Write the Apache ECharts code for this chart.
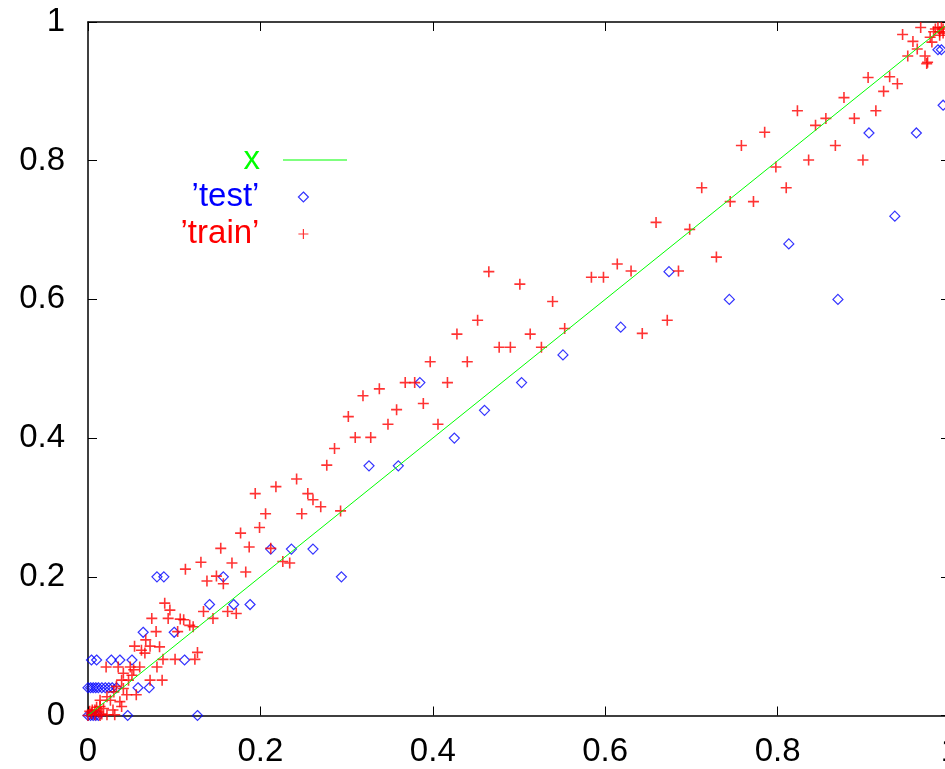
<!DOCTYPE html>
<html>
<head>
<meta charset="utf-8">
<script src="https://cdn.jsdelivr.net/npm/echarts@6/dist/echarts.min.js"></script>
<style>
  html, body { margin: 0; padding: 0; background: #fff; }
  #chart { width: 945px; height: 769px; }
</style>
</head>
<body>
<div id="chart"></div>
<script>
// y = x reference line
const lineData = [[0, 0], [1, 1]]

// 'test' points (blue diamonds)
const testData = [
  [0.080, 0.20], [0.088, 0.20], [0.157, 0.20], [0.141, 0.16], [0.169, 0.16], [0.188, 0.16],
  [0.064, 0.12], [0.100, 0.12], [0.004, 0.08], [0.010, 0.08], [0.027, 0.08], [0.037, 0.08],
  [0.051, 0.08], [0.112, 0.08], [0.058, 0.04], [0.071, 0.04],
  [0.000, 0.04], [0.003, 0.04], [0.006, 0.04], [0.009, 0.04], [0.012, 0.04], [0.016, 0.04],
  [0.020, 0.04], [0.024, 0.04], [0.028, 0.04], [0.033, 0.04],
  [0.046, 0], [0.127, 0], [0.000, 0], [0.003, 0], [0.006, 0], [0.009, 0], [0.012, 0],
  [0.385, 0.48], [0.326, 0.36], [0.360, 0.36], [0.212, 0.24], [0.236, 0.24], [0.261, 0.24],
  [0.294, 0.20], [0.425, 0.40], [0.460, 0.44], [0.503, 0.48], [0.551, 0.52], [0.618, 0.56],
  [0.674, 0.64], [0.744, 0.60], [0.813, 0.68], [0.870, 0.60], [0.906, 0.84], [0.961, 0.84],
  [0.936, 0.72], [0.992, 0.88], [0.986, 0.96], [0.990, 0.96]
]

// 'train' points (red crosses)
const trainData = [
  [0.131, 0.221], [0.167, 0.220], [0.113, 0.211], [0.183, 0.207], [0.138, 0.194], [0.149, 0.201],
  [0.157, 0.190], [0.226, 0.222], [0.234, 0.220],
  [0.089, 0.162], [0.095, 0.152], [0.134, 0.150], [0.162, 0.150], [0.172, 0.147], [0.145, 0.140],
  [0.074, 0.140], [0.093, 0.140], [0.107, 0.139], [0.111, 0.138], [0.118, 0.130], [0.122, 0.128],
  [0.079, 0.121], [0.104, 0.121], [0.067, 0.109], [0.054, 0.100], [0.062, 0.094], [0.066, 0.090],
  [0.072, 0.100], [0.083, 0.099], [0.087, 0.081], [0.101, 0.081], [0.124, 0.081], [0.127, 0.091],
  [0.080, 0.070], [0.021, 0.070], [0.035, 0.070], [0.049, 0.070], [0.053, 0.066], [0.060, 0.070],
  [0.041, 0.061], [0.051, 0.058], [0.039, 0.051], [0.047, 0.051], [0.072, 0.051], [0.086, 0.051],
  [0.033, 0.042], [0.030, 0.034], [0.041, 0.039], [0.056, 0.030], [0.045, 0.030], [0.022, 0.027],
  [0.026, 0.022], [0.014, 0.022], [0.037, 0.020], [0.039, 0.013], [0.014, 0.013], [0.008, 0.008],
  [0.029, 0.008], [0.031, 0.001], [0.022, 0.001],
  [0.000, 0.000], [0.004, 0.003], [0.008, 0.001], [0.012, 0.005], [0.016, 0.002], [0.005, 0.008],
  [0.010, 0.012], [0.002, 0.006], [0.018, 0.010], [0.014, 0.000],
  [0.368, 0.480], [0.379, 0.480], [0.338, 0.471], [0.319, 0.461], [0.389, 0.450], [0.302, 0.431],
  [0.358, 0.441], [0.348, 0.420], [0.406, 0.420], [0.310, 0.401], [0.328, 0.401], [0.286, 0.385],
  [0.277, 0.361], [0.242, 0.341], [0.218, 0.330], [0.194, 0.320], [0.255, 0.320], [0.261, 0.311],
  [0.270, 0.301], [0.206, 0.291], [0.248, 0.291], [0.293, 0.295], [0.199, 0.271], [0.177, 0.263],
  [0.187, 0.243], [0.154, 0.241], [0.212, 0.241],
  [0.465, 0.640], [0.501, 0.622], [0.539, 0.597], [0.452, 0.570], [0.428, 0.550], [0.513, 0.550],
  [0.553, 0.558], [0.477, 0.531], [0.490, 0.531], [0.526, 0.531], [0.397, 0.510], [0.440, 0.510],
  [0.417, 0.480], [0.584, 0.632], [0.598, 0.632], [0.614, 0.651], [0.630, 0.641], [0.672, 0.570],
  [0.643, 0.551], [0.685, 0.641],
  [0.729, 0.661], [0.659, 0.711], [0.698, 0.701], [0.712, 0.761], [0.745, 0.741], [0.772, 0.741],
  [0.758, 0.822], [0.785, 0.841], [0.798, 0.791], [0.810, 0.761], [0.836, 0.801], [0.823, 0.872],
  [0.844, 0.851], [0.856, 0.861], [0.867, 0.822], [0.877, 0.891], [0.889, 0.861], [0.899, 0.801],
  [0.914, 0.872], [0.923, 0.900],
  [0.905, 0.920], [0.930, 0.921], [0.939, 0.911], [0.945, 0.982], [0.957, 0.972], [0.962, 0.961],
  [0.966, 0.992], [0.951, 0.951], [0.971, 0.951], [0.974, 0.942], [0.973, 0.940], [0.977, 0.978],
  [0.979, 0.971], [0.983, 0.990], [0.986, 0.992], [0.990, 0.992], [0.992, 0.990], [0.981, 0.986],
  [0.988, 0.986], [0.992, 0.984], [0.988, 0.981]
]

const seriesNames = ['x', '\u2019test\u2019', '\u2019train\u2019']
const seriesColors = ['#00ff00', '#0000ff', '#ff0000']
const axisMin = 0
const axisMax = 1
const tickStep = 0.2

const font = 'Liberation Sans, Arial, Helvetica, sans-serif'
const plusSymbol = 'path://M0 5H10M5 0V10'

const chart = echarts.init(document.getElementById('chart'))

// one small legend per series, right-aligned so text sits left of the key sample
const makeLegend = (i, right, top, width, height, gap, icon) => ({
  data: [icon ? { name: seriesNames[i], icon: icon } : seriesNames[i]],
  orient: 'vertical',
  align: 'right',
  right: right,
  top: top,
  padding: 0,
  itemWidth: width,
  itemHeight: height,
  selectedMode: false,
  itemStyle: { borderWidth: 1.2 },
  textStyle: {
    color: seriesColors[i],
    fontSize: 33,
    fontFamily: font,
    padding: [0, gap, 0, 0]
  }
})

const axisCommon = {
  type: 'value',
  min: axisMin,
  max: axisMax,
  interval: tickStep,
  splitLine: { show: false },
  axisLine: { show: true, onZero: false, lineStyle: { color: '#000', width: 1.5 } },
  axisTick: { show: true, inside: true, length: 9, lineStyle: { color: '#000', width: 1 } }
}

chart.setOption({
  animation: false,
  backgroundColor: '#fff',
  grid: { left: 88, right: -5, top: 22, bottom: 53.5, outerBoundsMode: 'none', containLabel: false },
  legend: [
    makeLegend(0, 598, 143.5, 64, 1.2, 18, 'rect'),
    makeLegend(1, 636, 180.5, 10, 10, 34),
    makeLegend(2, 636, 217.5, 10, 10, 34)
  ],
  xAxis: [
    {
      ...axisCommon,
      position: 'bottom',
      axisLabel: { color: '#000', fontSize: 33, fontFamily: font, margin: 20 }
    },
    { ...axisCommon, position: 'top', axisLabel: { show: false } }
  ],
  yAxis: [
    {
      ...axisCommon,
      position: 'left',
      axisLabel: { color: '#000', fontSize: 33, fontFamily: font, margin: 23 }
    },
    { ...axisCommon, position: 'right', axisLabel: { show: false } }
  ],
  series: [
    {
      name: seriesNames[0],
      type: 'line',
      data: lineData,
      symbol: 'none',
      color: seriesColors[0],
      lineStyle: { color: seriesColors[0], width: 1 }
    },
    {
      name: seriesNames[1],
      type: 'scatter',
      data: testData,
      symbol: 'diamond',
      symbolSize: 10,
      itemStyle: { color: 'rgba(0,0,0,0)', borderColor: seriesColors[1], borderWidth: 1.2 }
    },
    {
      name: seriesNames[2],
      type: 'scatter',
      data: trainData,
      symbol: plusSymbol,
      symbolSize: 11,
      itemStyle: { color: 'rgba(0,0,0,0)', borderColor: seriesColors[2], borderWidth: 1.6 }
    }
  ]
})
</script>
</body>
</html>
